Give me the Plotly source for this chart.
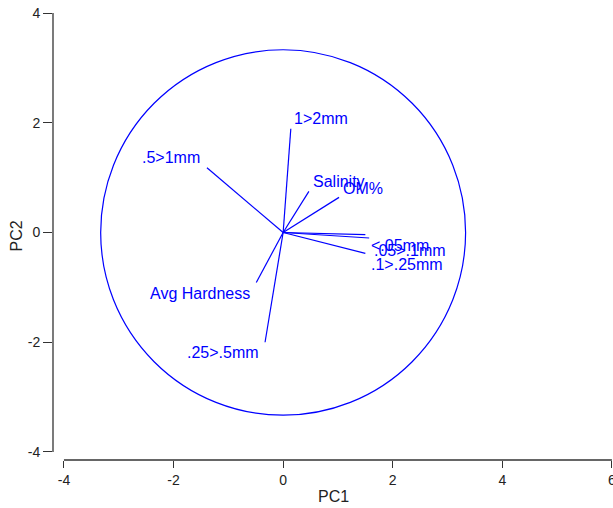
import plotly.graph_objects as go

# Loadings (vector endpoints)
labels = ["1>2mm", "Salinity", "OM%", "<.05mm", ".05>.1mm", ".1>.25mm",
          ".5>1mm", "Avg Hardness", ".25>.5mm"]
pc1 = [0.14, 0.47, 1.02, 1.50, 1.57, 1.50, -1.39, -0.49, -0.33]
pc2 = [1.89, 0.75, 0.64, -0.04, -0.10, -0.38, 1.18, -0.91, -2.00]
circle_radius = 3.33

x_ticks = [-4, -2, 0, 2, 4, 6]
x_ticktext = ["-4", "-2", "0", "2", "4", "6"]
y_ticks = [-4, -2, 0, 2, 4]
y_ticktext = ["-4", "-2", "0", "2", "4"]

# label placement (style)
xanchors = ["left", "left", "left", "left", "left", "left", "right", "right", "right"]
yshifts = [10, 10, 9, -11, -13, -11, 10, -11, -10]
xshifts = [1, 2, 2, 4, 3, 4, -5, -4, -4]

BLUE = "#0000FF"

xs, ys = [], []
for a, b in zip(pc1, pc2):
    xs += [0, a, None]
    ys += [0, b, None]

fig = go.Figure()
fig.add_trace(go.Scatter(x=xs, y=ys, mode="lines",
                         line=dict(color=BLUE, width=1.2),
                         hoverinfo="skip", showlegend=False))

annotations = []
for lab, a, b, xa, ysh, xsh in zip(labels, pc1, pc2, xanchors, yshifts, xshifts):
    annotations.append(dict(x=a, y=b, text=lab, showarrow=False,
                            xanchor=xa, yanchor="middle", xshift=xsh, yshift=ysh,
                            font=dict(color=BLUE, size=16, family="Liberation Sans, Arial")))

# axis titles
annotations.append(dict(x=0.5, y=0, xref="paper", yref="paper", text="PC1",
                        showarrow=False, xanchor="center", yanchor="middle",
                        yshift=-36, font=dict(size=16, color="#222")))
annotations.append(dict(x=0, y=0.5, xref="paper", yref="paper", text="PC2",
                        showarrow=False, xanchor="center", yanchor="middle",
                        textangle=-90, xshift=-37, font=dict(size=16, color="#222")))

shapes = [
    dict(type="circle", xref="x", yref="y",
         x0=-circle_radius, x1=circle_radius, y0=-circle_radius, y1=circle_radius,
         line=dict(color=BLUE, width=1.2)),
    # detached axis lines
    dict(type="line", xref="paper", yref="y", x0=0, x1=0,
         y0=min(y_ticks), y1=max(y_ticks), line=dict(color="#333", width=1.3)),
    dict(type="line", xref="x", yref="paper", x0=min(x_ticks), x1=max(x_ticks),
         y0=0, y1=0, line=dict(color="#333", width=1.3)),
]

fig.update_layout(
    width=613, height=508,
    margin=dict(l=53, r=0, t=13, b=48),
    plot_bgcolor="white", paper_bgcolor="white",
    font=dict(family="Liberation Sans, Arial", size=14, color="#222"),
    shapes=shapes, annotations=annotations,
    xaxis=dict(range=[-4.2, 6.02], tickvals=x_ticks, ticktext=x_ticktext,
               showgrid=False, zeroline=False, automargin=False,
               ticklabeloverflow="allow",
               showline=False, ticks="outside", ticklen=7, tickcolor="#333",
               tickfont=dict(size=14)),
    yaxis=dict(range=[-4.146, 4.0], tickvals=y_ticks, ticktext=y_ticktext,
               showgrid=False, zeroline=False, automargin=False,
               ticklabeloverflow="allow",
               showline=False, ticks="outside", ticklen=9, tickcolor="#333",
               tickfont=dict(size=14)),
)

fig.write_html("out.html")
